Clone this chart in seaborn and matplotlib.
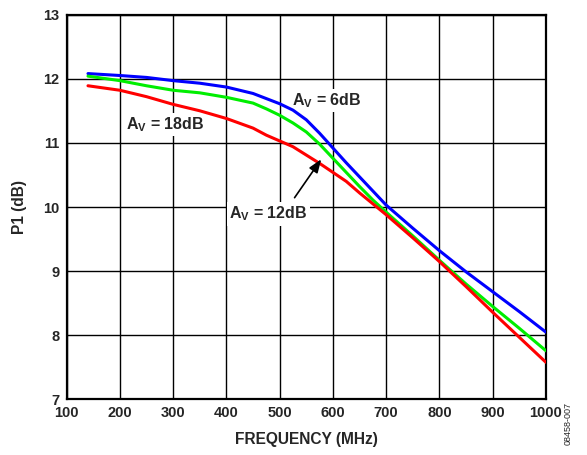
import numpy as np
import pandas as pd
import matplotlib
matplotlib.use("Agg")
import matplotlib.pyplot as plt
import seaborn as sns

freq = [140, 200, 250, 300, 350, 400, 450, 475, 500, 525, 550, 575, 600, 625, 650, 675, 700, 750, 800, 850, 900, 950, 1000]
p1_6db = [12.08, 12.05, 12.02, 11.97, 11.93, 11.87, 11.77, 11.69, 11.61, 11.51, 11.36, 11.15, 10.92, 10.69, 10.47, 10.25, 10.03, 9.67, 9.32, 8.99, 8.68, 8.37, 8.05]
p1_12db = [12.04, 11.97, 11.89, 11.82, 11.78, 11.71, 11.62, 11.53, 11.43, 11.31, 11.17, 10.98, 10.76, 10.54, 10.32, 10.11, 9.92, 9.55, 9.17, 8.80, 8.45, 8.11, 7.76]
p1_18db = [11.89, 11.82, 11.72, 11.60, 11.50, 11.38, 11.23, 11.12, 11.03, 10.94, 10.81, 10.68, 10.54, 10.40, 10.22, 10.05, 9.88, 9.52, 9.15, 8.76, 8.36, 7.97, 7.58]
series_names = ["6dB", "12dB", "18dB"]
x_ticks = [100, 200, 300, 400, 500, 600, 700, 800, 900, 1000]
y_ticks = [7, 8, 9, 10, 11, 12, 13]

df = pd.DataFrame({
    "freq": freq * 3,
    "p1": p1_6db + p1_12db + p1_18db,
    "gain": [series_names[0]] * len(freq) + [series_names[1]] * len(freq) + [series_names[2]] * len(freq),
})

sns.set_style("white")
plt.rcParams["font.family"] = ["Liberation Sans", "DejaVu Sans"]
plt.rcParams["mathtext.fontset"] = "custom"
plt.rcParams["mathtext.rm"] = "Liberation Sans:bold"
plt.rcParams["mathtext.it"] = "Liberation Sans:bold"
plt.rcParams["mathtext.bf"] = "Liberation Sans:bold"

fig = plt.figure(figsize=(5.87, 4.55), dpi=100)
ax = fig.add_axes([0.1136, 0.122, 0.8164, 0.846])

palette = {"6dB": "#0000FF", "12dB": "#00EE00", "18dB": "#FF0000"}
sns.lineplot(data=df, x="freq", y="p1", hue="gain", palette=palette, ax=ax,
             linewidth=2.2, legend=False, zorder=3)

ax.set_xlim(100, 1000)
ax.set_ylim(7, 13)
ax.set_xticks(x_ticks)
ax.set_yticks(y_ticks)
ax.set_xticklabels([str(t) for t in x_ticks], fontsize=10.5, fontweight="bold")
ax.set_yticklabels([str(t) for t in y_ticks], fontsize=10.5, fontweight="bold")
ax.tick_params(length=0, pad=5)
ax.grid(True, color="black", linewidth=1.0, zorder=1)
ax.set_axisbelow(True)
for s in ax.spines.values():
    s.set_color("black")
    s.set_linewidth(1.6)
    s.set_visible(True)

ax.set_xlabel("FREQUENCY (MHz)", fontsize=11.2, fontweight="bold", labelpad=8)
ax.set_ylabel("P1 (dB)", fontsize=11.2, fontweight="bold", labelpad=12)

bbox = dict(boxstyle="square,pad=0.15", facecolor="white", edgecolor="none")
lab_fs = 11.5
ax.text(589, 11.66, r"A$_\mathrm{V}$ = 6dB", fontsize=lab_fs, fontweight="bold",
        ha="center", va="center", bbox=bbox, zorder=2)
ax.text(284, 11.29, r"A$_\mathrm{V}$ = 18dB", fontsize=lab_fs, fontweight="bold",
        ha="center", va="center", bbox=bbox, zorder=2)
ax.text(479, 9.89, r"A$_\mathrm{V}$ = 12dB", fontsize=lab_fs, fontweight="bold",
        ha="center", va="center", bbox=bbox, zorder=2)
ax.annotate("", xy=(581, 10.78), xytext=(525, 10.11),
            arrowprops=dict(arrowstyle="-|>,head_length=0.8,head_width=0.3",
                            color="black", lw=1.2), zorder=5)

fig.text(0.968, 0.07, "08458-007", rotation=90, fontsize=6.5, ha="center", va="center")

fig.savefig("out.png", dpi=100)
